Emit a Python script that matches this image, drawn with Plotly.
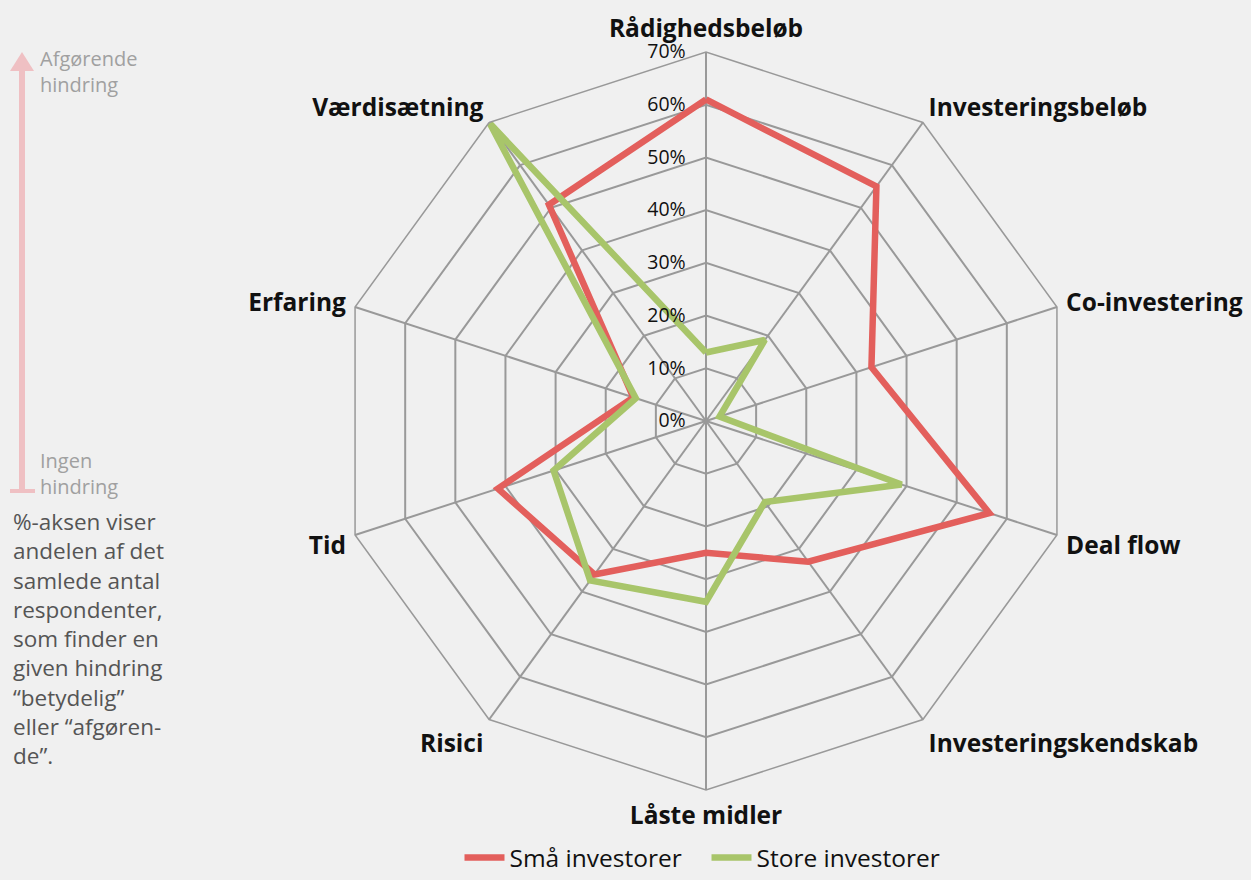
import plotly.graph_objects as go

categories = ["Rådighedsbeløb", "Investeringsbeløb", "Co-investering", "Deal flow",
              "Investeringskendskab", "Låste midler", "Risici", "Tid", "Erfaring", "Værdisætning"]
small_investors = [61, 55, 33, 56.5, 33, 25, 36, 41.5, 14.5, 50.7]
large_investors = [13, 19, 2.7, 39, 19, 34.3, 37.4, 30.4, 14, 69.8]
tick_values = [0, 10, 20, 30, 40, 50, 60, 70]
tick_labels = ["0%", "10%", "20%", "30%", "40%", "50%", "60%", "70%"]
top_note = ["Afgørende", "hindring"]
bottom_note = ["Ingen", "hindring"]
paragraph = ["%-aksen viser", "andelen af det", "samlede antal", "respondenter,",
             "som finder en", "given hindring", "“betydelig”", "eller “afgøren-", "de”."]

W, H = 1251, 880
FONT = "Open Sans"

def close(v):
    return v + v[:1]

fig = go.Figure()
fig.add_trace(go.Scatterpolar(
    r=close(small_investors), theta=close(categories), mode="lines",
    name="Små investorer", line=dict(color="#e35f5c", width=6.5)))
fig.add_trace(go.Scatterpolar(
    r=close(large_investors), theta=close(categories), mode="lines",
    name="Store investorer", line=dict(color="#a8c56a", width=6.5)))

cx, cy, R = 706, 421, 369

def px(x):
    return x / W

def py(y):
    return 1 - y / H

fig.update_layout(
    width=W, height=H,
    paper_bgcolor="#f0f0f0", plot_bgcolor="#f0f0f0",
    margin=dict(l=0, r=0, t=0, b=0),
    font=dict(family=FONT, color="#111111"),
    polar=dict(
        domain=dict(x=[(cx - R) / W, (cx + R) / W], y=[(H - cy - R) / H, (H - cy + R) / H]),
        bgcolor="#f0f0f0",
        gridshape="linear",
        radialaxis=dict(range=[0, 70], tickvals=tick_values, ticktext=tick_labels,
                        angle=90, tickangle=90, side="counterclockwise",
                        showline=False, ticks="outside", ticklen=13, tickcolor="rgba(0,0,0,0)",
                        gridcolor="#999999", gridwidth=1.5,
                        tickfont=dict(size=19.5, color="#111111", family=FONT)),
        angularaxis=dict(direction="clockwise", rotation=90, gridcolor="#999999", gridwidth=1.5,
                         linecolor="#999999", linewidth=1.5,
                         ticks="outside", ticklen=4, tickcolor="rgba(0,0,0,0)",
                         tickfont=dict(size=24.5, color="#111111", family=FONT, weight="bold"),
                         categoryorder="array", categoryarray=categories),
    ),
    legend=dict(orientation="h", x=px(706.5), xanchor="center", y=0, yanchor="bottom",
                font=dict(size=24.5, color="#111111"), bgcolor="rgba(0,0,0,0)",
                itemwidth=40, tracegroupgap=0, entrywidth=192, entrywidthmode="pixels"),
    showlegend=True,
)

arrow_col = "#efc0c3"
fig.add_shape(type="line", xref="paper", yref="paper", x0=px(22), x1=px(22), y0=py(491), y1=py(70),
              line=dict(color=arrow_col, width=6))
fig.add_shape(type="path", xref="paper", yref="paper",
              path=f"M {px(10)},{py(71)} L {px(34)},{py(71)} L {px(22)},{py(52)} Z",
              fillcolor=arrow_col, line=dict(width=0))
fig.add_shape(type="line", xref="paper", yref="paper", x0=px(10), x1=px(35), y0=py(491), y1=py(491),
              line=dict(color=arrow_col, width=4))

fig.add_annotation(xref="paper", yref="paper", x=px(38), y=py(72), xanchor="left",
                   yanchor="middle", text="<br>".join(top_note), showarrow=False, align="left",
                   font=dict(size=20, color="#a0a0a0", family=FONT))
fig.add_annotation(xref="paper", yref="paper", x=px(38), y=py(473), xanchor="left",
                   yanchor="middle", text="<br>".join(bottom_note), showarrow=False, align="left",
                   font=dict(size=20, color="#a0a0a0", family=FONT))
fig.add_annotation(xref="paper", yref="paper", x=px(11), y=py(638), xanchor="left",
                   yanchor="middle", text="<br>".join(paragraph), showarrow=False, align="left",
                   font=dict(size=22.5, color="#555555", family=FONT))

fig.write_html("out.html", config={"displayModeBar": False},
               post_script="document.body.style.margin='0';document.body.style.background='#f0f0f0';")
